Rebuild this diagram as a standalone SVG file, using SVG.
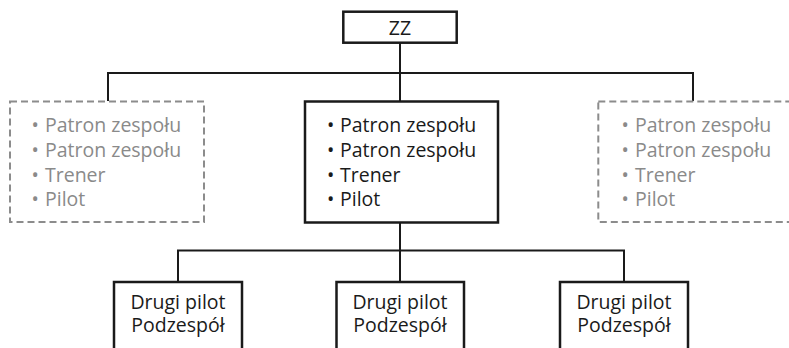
<svg xmlns="http://www.w3.org/2000/svg" width="789" height="348" viewBox="0 0 789 348">
<style>
.box{fill:#fff;stroke:#1a1a1a;stroke-width:2.5}
.dbox{fill:#fff;stroke:#8c8c8c;stroke-width:2;stroke-dasharray:7 4}
.con{fill:none;stroke:#1a1a1a;stroke-width:2}
.t{font-family:"Open Sans","Noto Sans",sans-serif;font-size:19.5px;fill:#1a1a1a}
.g{fill:#8a8a8a}
.c{text-anchor:middle}
</style>
<rect width="789" height="348" fill="#fff"/>
<g id="connectors">
<path class="con" d="M400 43V101M108 101V73H693V101M400 222V282M178 282V250.5H624V282"/>
</g>
<g id="zz">
<rect class="box" x="343.3" y="11.7" width="113.4" height="31"/>
<text class="t c" x="400" y="34.5">ZZ</text>
</g>
<g id="left">
<rect class="dbox" x="10" y="101.5" width="194" height="120.5"/>
<text class="t g" x="31.5" y="132">•<tspan x="45">Patron zespołu</tspan></text>
<text class="t g" x="31.5" y="157">•<tspan x="45">Patron zespołu</tspan></text>
<text class="t g" x="31.5" y="182">•<tspan x="45">Trener</tspan></text>
<text class="t g" x="31.5" y="206">•<tspan x="45">Pilot</tspan></text>
</g>
<g id="center">
<rect class="box" x="305" y="101.5" width="193" height="121"/>
<text class="t" x="327" y="132">•<tspan x="340">Patron zespołu</tspan></text>
<text class="t" x="327" y="157">•<tspan x="340">Patron zespołu</tspan></text>
<text class="t" x="327" y="182">•<tspan x="340">Trener</tspan></text>
<text class="t" x="327" y="206">•<tspan x="340">Pilot</tspan></text>
</g>
<g id="right">
<rect class="dbox" x="598.3" y="101.5" width="230" height="120.5"/>
<text class="t g" x="621.5" y="132">•<tspan x="635">Patron zespołu</tspan></text>
<text class="t g" x="621.5" y="157">•<tspan x="635">Patron zespołu</tspan></text>
<text class="t g" x="621.5" y="182">•<tspan x="635">Trener</tspan></text>
<text class="t g" x="621.5" y="206">•<tspan x="635">Pilot</tspan></text>
</g>
<g id="sub1">
<rect class="box" x="114" y="282" width="128" height="90"/>
<text class="t c" x="178" y="308.5">Drugi pilot</text>
<text class="t c" x="178" y="332">Podzespół</text>
</g>
<g id="sub2">
<rect class="box" x="336.5" y="282" width="127.5" height="90"/>
<text class="t c" x="400" y="308.5">Drugi pilot</text>
<text class="t c" x="400" y="332">Podzespół</text>
</g>
<g id="sub3">
<rect class="box" x="560" y="282" width="128" height="90"/>
<text class="t c" x="624" y="308.5">Drugi pilot</text>
<text class="t c" x="624" y="332">Podzespół</text>
</g>
</svg>
